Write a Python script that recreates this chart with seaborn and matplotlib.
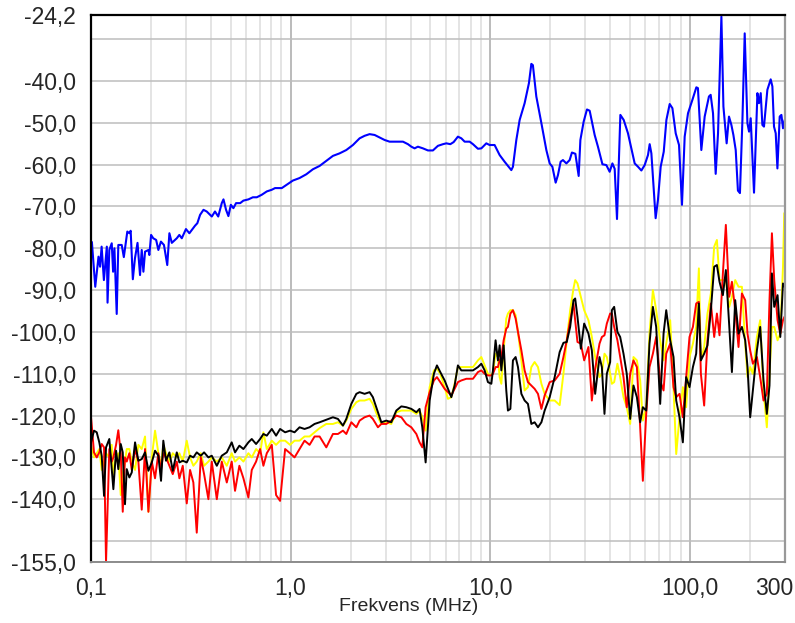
import numpy as np
import pandas as pd
import matplotlib
matplotlib.use("Agg")
import matplotlib.pyplot as plt
import matplotlib.transforms as mtransforms
from matplotlib.ticker import LogLocator, NullFormatter
import seaborn as sns

# Blue trace (upper curve)
freq_blue = [0.101, 0.105, 0.109, 0.111, 0.113, 0.116, 0.120, 0.121, 0.1235, 0.127,
             0.129, 0.131, 0.1345, 0.137, 0.1425, 0.146, 0.152, 0.1556, 0.158, 0.162,
             0.166, 0.171, 0.176, 0.1795, 0.183, 0.1865, 0.194, 0.196, 0.200, 0.205,
             0.212, 0.2175, 0.224, 0.232, 0.241, 0.247, 0.254, 0.269, 0.277, 0.285,
             0.299, 0.311, 0.332, 0.341, 0.352, 0.366, 0.380, 0.403, 0.418, 0.434,
             0.452, 0.461, 0.475, 0.488, 0.502, 0.517, 0.533, 0.559, 0.580, 0.615,
             0.647, 0.677, 0.717, 0.760, 0.805, 0.836, 0.9035, 0.957, 1.027, 1.109,
             1.199, 1.294, 1.398, 1.510, 1.630, 1.760, 1.902, 2.053, 2.218, 2.349,
             2.489, 2.638, 2.794, 2.960, 3.135, 3.322, 3.658, 3.874, 4.028, 4.184,
             4.344, 4.606, 4.881, 5.168, 5.474, 5.804, 6.034, 6.318, 6.564, 6.895,
             7.173, 7.452, 7.895, 8.203, 8.689, 9.035, 9.57, 9.94, 10.53, 11.16,
             11.82, 12.77, 13.01, 13.53, 14.06, 14.89, 15.65, 16.09, 16.38, 17.04,
             18.07, 19.13, 19.88, 20.51, 21.30, 21.87, 22.56, 23.17, 24.10, 25.03,
             25.70, 26.74, 27.78, 28.33, 29.43, 30.57, 31.54, 33.41, 34.70, 36.54,
             38.23, 39.72, 41.0, 42.09, 43.23, 44.94, 46.70, 49.07, 51.0, 53.02,
             55.09, 57.27, 59.50, 61.81, 63.03, 64.28, 67.52, 69.36, 71.56, 74.14,
             76.45, 79.41, 81.93, 85.11, 88.43, 91.5, 94.4, 98.1, 103.2, 108.0,
             110.0, 114.4, 118.9, 124.9, 127.4, 130.9, 135.0, 138.7, 144.2, 147.6,
             153.2, 157.4, 161.8, 165.6, 170.1, 174.5, 178.6, 183.8, 188.7, 194.7,
             198.4, 202.2, 210.1, 218.5, 222.5, 227.0, 231.4, 235.7, 245.1, 254.7,
             259.7, 264.6, 269.9, 275.2, 282.6, 288.2, 293.6, 299.4, 302]
blue_db = [-78.5, -89.2, -82, -84.4, -79.6, -87.6, -79.6, -93, -80.4, -78.8,
           -85.6, -80, -95.7, -79.2, -79.2, -82.1, -76, -76.4, -75.8, -87.4,
           -82.4, -78.7, -86.4, -80.4, -85.6, -80.8, -80.4, -81.6, -76.8, -77.6,
           -78, -80.4, -78.4, -79.2, -84, -76.4, -78.7, -77.6, -76.8, -77.6,
           -75.4, -76.4, -74.6, -74, -72, -70.8, -71.2, -72.4, -71.2, -72.4,
           -69.2, -68.3, -70.8, -72.3, -69.6, -70.4, -69.2, -69.2, -68.6, -68.3,
           -67.8, -67.8, -67.2, -66.4, -66, -65.6, -65.6, -64.8, -63.8, -63.2,
           -62.3, -61.1, -60.3, -59.1, -57.9, -57.3, -56.5, -55.3, -53.7, -53.1,
           -52.7, -52.9, -53.5, -54.1, -54.5, -54.5, -54.5, -55.1, -55.7, -56.1,
           -55.7, -56.1, -56.6, -56.6, -55.5, -55.1, -54.9, -55.1, -54.6, -53.3,
           -53.7, -54.5, -54.5, -55.1, -56.2, -56.1, -54.9, -55.3, -55.3, -57.7,
           -59.3, -61.3, -60.5, -54.1, -49.3, -45.3, -40.5, -35.9, -36.2, -43.7,
           -50.1, -56.5, -59.7, -60.5, -64.3, -62.5, -59.3, -58.9, -59.7, -58.9,
           -57.1, -57.4, -62.7, -54.1, -49.7, -46.8, -47.1, -52.9, -55.7, -59.9,
           -60.1, -61.7, -59.7, -61, -73, -48.1, -49.3, -52.5, -56.1, -59.7,
           -60.5, -61.4, -60.1, -57.7, -55.1, -57.3, -72.8, -68.4, -60.5, -56.9,
           -49.3, -45.5, -46.5, -52.5, -55.3, -69.6, -53.3, -47.7, -44.5, -41.5,
           -41.7, -56.5, -48.5, -43.7, -43.3, -47.7, -62.2, -52.5, -24.6, -46.1,
           -54.9, -48.5, -50.5, -52.9, -56.5, -66.2, -66.8, -49.3, -28.6, -50.1,
           -52.1, -48.9, -66.7, -42.9, -45.3, -42.9, -50.5, -50.9, -42.1, -39.6,
           -41.3, -50.9, -52.5, -60.9, -48.5, -48.1, -51.3, -49.3, -49.3]

# Shared frequency points of the three lower traces
freq_low = [0.1, 0.1035, 0.1068, 0.110, 0.1131, 0.1162, 0.1189, 0.1235, 0.127, 0.1294,
            0.1335, 0.137, 0.1409, 0.1442, 0.148, 0.151, 0.1556, 0.160, 0.1662, 0.1727,
            0.1795, 0.1865, 0.1939, 0.2016, 0.2093, 0.2175, 0.2243, 0.2303, 0.2376, 0.247,
            0.2568, 0.269, 0.2772, 0.2882, 0.3018, 0.3135, 0.3257, 0.3387, 0.3548, 0.3686,
            0.3874, 0.4028, 0.4269, 0.452, 0.479, 0.507, 0.5268, 0.5538, 0.5804, 0.6146,
            0.639, 0.6717, 0.7035, 0.7308, 0.760, 0.8052, 0.846, 0.886, 0.9389, 0.994,
            1.047, 1.109, 1.175, 1.245, 1.319, 1.398,
            1.510, 1.630, 1.727, 1.830, 1.902, 2.016, 2.136, 2.218, 2.349, 2.489,
            2.585, 2.740, 2.849, 3.018, 3.197, 3.387, 3.590, 3.801, 4.028, 4.269,
            4.429, 4.572, 4.751, 4.976, 5.228, 5.413, 5.627, 5.916, 6.146, 6.390,
            6.640, 6.895, 7.173, 7.600, 8.203, 8.689, 9.035, 9.389, 9.75, 10.14,
            10.33, 10.65, 10.94, 11.16, 11.38, 11.69, 12.05, 12.28, 12.63, 13.01,
            13.42, 13.79, 14.34, 14.89, 15.47, 16.09, 16.71, 17.37, 18.07, 18.76,
            19.88, 21.06, 22.31,
            23.30, 24.21, 25.18, 26.17, 26.68, 27.40, 28.49, 29.60, 31.10, 32.34,
            33.60, 35.33, 36.31, 37.41, 38.44, 39.95, 40.74, 41.84, 43.44, 44.84,
            46.60, 48.38, 50.33, 52.28, 54.38, 56.49, 58.26, 60.56, 62.89, 65.41,
            67.95, 71.15, 73.98, 76.30, 79.86, 82.98, 85.61, 88.94, 92.43, 96.0,
            99.8, 103.8, 107.8, 111.2, 113.8, 118.2, 122.8, 127.7, 132.7, 136.9,
            141.1, 146.7, 151.8, 157.8, 162.8, 169.1, 175.7, 182.7, 189.8, 194.9,
            201.0, 207.3, 217.2, 225.6, 234.4, 243.6, 251.2, 258.3, 265.3, 275.7,
            284.5, 293.5, 297.8, 302]

black_db = [-126.4, -123.6, -124, -126.4, -129.6, -139.2, -127.6, -125.6, -132.8, -137.6,
            -128.4, -132.8, -126.8, -128.8, -141.2, -132.8, -134.8, -133.6, -126.4, -130.8,
            -130.4, -128.8, -133.2, -131.2, -128.4, -129.6, -135.6, -126, -130.8, -128.8,
            -133.2, -128.8, -131.2, -130.8, -131.2, -129.6, -130, -128.8, -129.6, -128.8,
            -130, -129.6, -132, -129.6, -128.8, -126.4, -128.8, -127.2, -128, -126.4,
            -125.6, -126.8, -125.6, -124.4, -124.8, -123.2, -124.8, -123.2, -124, -123.6,
            -124, -122.8, -123.2, -122.8, -122, -121.6,
            -121, -120.4, -120.8, -122.4, -120.8, -117.2, -114.8, -114.4, -114.8, -114.4,
            -115.6, -119.2, -121.6, -121.2, -121.6, -118.8, -117.8, -118, -118.4, -119.2,
            -118.4, -122.8, -131.2, -116.4, -110, -108, -109.6, -111.6, -113.6, -115.6,
            -112.8, -108, -109.2, -109.2, -109.2, -108.4, -107.6, -109.2, -112, -112.4,
            -109.2, -102, -106.8, -103.2, -109.2, -103.2, -114, -118.8, -118.4, -106.8,
            -106, -108.4, -114.8, -116.4, -117.2, -122, -121.6, -122.8, -121.6, -118.8,
            -115.6, -110.8, -104.8,
            -102.6, -102.4, -98.8, -92.4, -92, -96.4, -104, -98, -100.4, -104.4,
            -114.8, -106, -108.4, -119.6, -110, -107.2, -94.8, -94, -100, -101.2,
            -105.2, -110, -120.8, -112.8, -115.6, -121.6, -118, -118.8, -102.8, -94,
            -98.8, -117.2, -100.4, -94.8, -102, -106, -116.4, -120.4, -126.4, -110.8,
            -113.2, -108.4, -105.2, -93.2, -106.8, -105.2, -103.2, -94.8, -84.4, -84,
            -88, -91.2, -85.2, -98.4, -109.6, -92.4, -100.4, -98.8, -102, -108.4,
            -120.4, -114, -104.4, -98.8, -111.6, -119.6, -112.8, -86, -94, -91.2,
            -101.2, -88.4, -89, -89.6]

red_db = [-120.4, -128.8, -130, -128.8, -126.8, -127.6, -155, -128, -131, -130,
          -127, -123.5, -129, -143, -130, -131, -129, -133, -128, -131,
          -142.5, -128, -143, -131, -135, -129, -133, -129, -130, -132,
          -134, -131, -135, -132, -141, -133, -136, -148, -130, -134,
          -140, -131, -140, -131, -136, -131, -138, -132, -135, -139.6,
          -133, -131, -128, -132, -129, -127, -139, -140.4, -128, -129,
          -130, -128, -126, -127, -125, -125,
          -127.6, -124.4, -124.4, -123.6, -124.4, -121.6, -122.8, -121.2, -120.4, -120,
          -120.8, -122.8, -122, -122, -121.2, -120, -120.4, -122, -122.8, -124.4,
          -126.4, -127.6, -118, -114.4, -111.6, -110.8, -112, -113.6, -114.4, -115.2,
          -113.6, -112, -111.6, -111.2, -111.2, -109.6, -109.2, -110, -110.4, -110.4,
          -110, -108.4, -108.4, -106.8, -106, -102, -99.2, -98.8, -95.6, -94.8,
          -96.8, -100, -104.4, -109.2, -112, -112.8, -113.6, -114.8, -118.4, -115.2,
          -112, -111.6, -110,
          -106, -102, -97.2, -93.2, -97.2, -102.4, -102.8, -106.8, -103.6, -116.4,
          -108.8, -102.8, -101.2, -100.8, -98, -95.6, -95.6, -98.8, -102, -106,
          -110.8, -118, -110, -106.8, -108.4, -122.8, -135.6, -119.6, -108.4, -105.2,
          -101.2, -111.6, -114, -105.2, -102.8, -113.2, -115.6, -114.8, -120.4, -110.8,
          -101.2, -98.8, -93.2, -92.8, -110, -117.6, -102, -93.2, -101.2, -95.6,
          -100.8, -86, -74.4, -91.6, -88, -94.8, -103.6, -90.8, -92.4, -100.4,
          -104.4, -107.6, -106, -110.8, -116.4, -114.8, -92.4, -76.4, -87.6, -97.2,
          -100.4, -97.2, -96.5, -96]

yellow_db = [-127, -130, -129, -128, -133, -131, -129, -130, -127, -134,
             -130, -129, -139, -134, -131, -128, -128, -131, -133, -127,
             -128, -125, -143, -130, -123.6, -129, -132, -127, -129, -131,
             -129, -130, -129, -131, -126, -130, -132, -131, -129, -132,
             -131, -130, -131, -130, -132, -129, -131, -130, -131, -129,
             -130, -128, -129, -124, -128, -126, -127, -126, -126, -127,
             -126, -126, -125, -125, -124, -123,
             -122, -122, -121.6, -122.4, -121.2, -118.4, -116.8, -116.4, -116.4, -116,
             -117.2, -120.4, -122, -121.6, -122, -119.2, -118.8, -118.8, -118.8, -119.6,
             -118.8, -120.4, -123.6, -113.2, -109.2, -108.8, -110, -113.2, -116, -115.6,
             -112.4, -108.4, -108.4, -108.4, -108.4, -106.8, -106, -108, -110, -110.4,
             -109.6, -105.2, -106, -110.8, -112.4, -104.4, -96.8, -95.6, -94.8, -94.8,
             -96, -100, -106.8, -114, -113.2, -108.4, -107.2, -108.4, -112.4, -114.8,
             -116.4, -116.4, -117.5,
             -110, -102, -94.8, -89.6, -87.6, -88.4, -91.6, -94.8, -97.2, -101.2,
             -106, -110.8, -110, -105.2, -106, -110, -112.4, -112, -107.6, -110.8,
             -115.6, -118, -122, -106, -106.8, -111.6, -121.2, -118, -100.4, -90,
             -94.8, -102, -106.8, -102.8, -97.2, -113.2, -129.2, -120.4, -113.2, -118,
             -106, -102.8, -98.8, -84.8, -106.8, -103.6, -95.6, -90.8, -79.6, -78,
             -87.6, -87.6, -87.6, -94, -91.6, -87.6, -89.2, -89.2, -102.8, -110.8,
             -108.4, -110, -101.2, -97.2, -114, -122.8, -110, -98.8, -98.8, -102,
             -100.4, -84.4, -71.6, -71.4]

x_ticks = [0.1, 1, 10, 100, 300]
x_labels = ["0,1", "1,0", "10,0", "100,0", "300"]
y_ticks = [-24.2, -30, -40, -50, -60, -70, -80, -90, -100, -110, -120, -130, -140, -150, -155]
y_labels = ["-24,2", "", "-40,0", "-50,0", "-60,0", "-70,0", "-80,0", "-90,0", "-100,0",
            "-110,0", "-120,0", "-130,0", "-140,0", "", "-155,0"]

sns.set_style("white")
plt.rcParams["font.family"] = ["Liberation Sans", "DejaVu Sans"]

fig = plt.figure(figsize=(7.95, 6.23), dpi=100)
ax = fig.add_axes([0.1145, 0.098, 0.8735, 0.878])
ax.set_xscale("log")

low = pd.DataFrame({"freq": freq_low, "yellow": yellow_db, "red": red_db, "black": black_db})
for name, col in [("yellow", "#ffff00"), ("red", "#ff0000"), ("black", "#000000")]:
    sns.lineplot(data=low, x="freq", y=name, ax=ax, color=col, linewidth=1.4,
                 sort=False, estimator=None)
sns.lineplot(x=freq_blue, y=blue_db, ax=ax, color="#0000ff", linewidth=1.5,
             sort=False, estimator=None)

ax.set_xlim(0.1, 302)
ax.set_ylim(-155, -24.2)

ax.set_xticks(x_ticks)
ax.set_xticklabels(x_labels)
ax.xaxis.set_minor_locator(LogLocator(base=10, subs=np.arange(2, 10)))
ax.xaxis.set_minor_formatter(NullFormatter())
ax.set_yticks(y_ticks)
ax.set_yticklabels(y_labels)

ax.grid(which="minor", axis="x", color="#dddddd", linewidth=1.1)
ax.grid(which="major", axis="x", color="#a8a8a8", linewidth=1.1)
ax.grid(which="major", axis="y", color="#bdbdbd", linewidth=1.1)
ax.set_axisbelow(True)

ax.tick_params(axis="y", which="major", direction="out", length=9, width=1.3,
               color="black", pad=2, labelsize=16.5)
ax.tick_params(axis="x", which="major", direction="out", length=6, width=1.3,
               color="black", pad=5, labelsize=16.5)
ax.tick_params(axis="x", which="minor", length=0)

# last x label sits left of its tick so it stays inside the figure
last = ax.get_xticklabels()[-1]
last.set_transform(last.get_transform() +
                   mtransforms.ScaledTranslation(-11 / 100, 0, fig.dpi_scale_trans))

for side in ["left", "top"]:
    ax.spines[side].set_color("black")
    ax.spines[side].set_linewidth(1.6)
ax.spines["right"].set_color("#999999")
ax.spines["right"].set_linewidth(1.6)
ax.spines["bottom"].set_color("#8c8c8c")
ax.spines["bottom"].set_linewidth(1.4)

ax.set_xlabel("Frekvens (MHz)", fontsize=14, labelpad=0)
ax.xaxis.set_label_coords(0.457, -0.066)
ax.set_ylabel("")

fig.savefig("out.png", dpi=100)
